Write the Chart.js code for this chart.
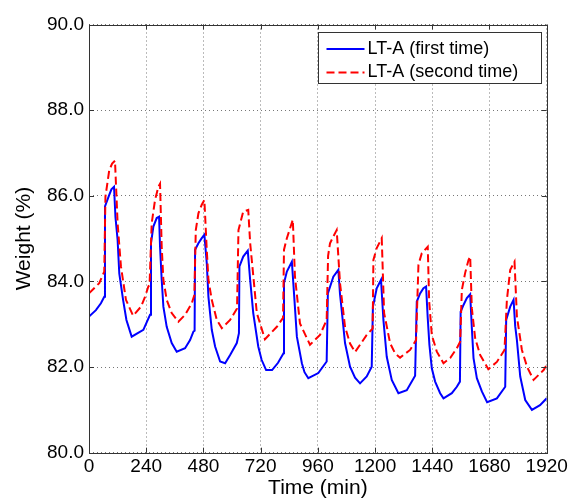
<!DOCTYPE html>
<html>
<head>
<meta charset="utf-8">
<title>LT-A weight</title>
<script src="https://cdn.jsdelivr.net/npm/chart.js@4.4.1/dist/chart.umd.min.js"></script>
<style>
    body { margin: 0; background: #fff; }
    #wrap { width: 569px; height: 500px; }
</style>
</head>
<body>
<div id="wrap"><canvas id="weightChart" width="569" height="500"></canvas></div>
<script>
// Valores (tempo em min, peso em %)
const blueTime = [
    0, 29, 50, 64, 67, 85, 94, 105, 111, 120,
    127, 143, 157, 179, 228, 256, 260, 270, 284, 294,
    298, 305, 312, 326, 347, 368, 403, 424, 438, 443,
    445, 459, 473, 484, 494, 501, 515, 529, 550, 571,
    592, 620, 629, 631, 647, 666, 676, 689, 710, 724,
    743, 768, 793, 816, 818, 830, 851, 860, 872, 893,
    904, 920, 962, 997, 1002, 1025, 1046, 1053, 1060, 1074,
    1095, 1116, 1137, 1165, 1186, 1191, 1207, 1225, 1235, 1249,
    1270, 1298, 1333, 1368, 1375, 1389, 1403, 1414, 1421, 1428,
    1438, 1452, 1473, 1487, 1522, 1543, 1556, 1559, 1571, 1585,
    1599, 1606, 1613, 1627, 1648, 1670, 1711, 1746, 1750, 1767,
    1781, 1788, 1795, 1809, 1830, 1858, 1892, 1920
];
const blueWeight = [
    83.18, 83.33, 83.49, 83.64, 85.75, 86.02, 86.15, 86.21, 85.50, 84.97,
    84.19, 83.57, 83.10, 82.71, 82.87, 83.22, 84.89, 85.28, 85.48, 85.51,
    84.81, 84.04, 83.41, 82.94, 82.56, 82.36, 82.44, 82.63, 82.83, 82.85,
    84.74, 84.89, 85.01, 85.09, 84.43, 83.64, 82.87, 82.48, 82.13, 82.09,
    82.28, 82.56, 82.79, 84.35, 84.58, 84.72, 84.04, 83.26, 82.48, 82.17,
    81.93, 81.93, 82.10, 82.32, 83.96, 84.23, 84.46, 83.72, 82.71, 82.09,
    81.88, 81.74, 81.86, 82.13, 83.72, 84.11, 84.27, 83.70, 83.33, 82.56,
    82.01, 81.75, 81.62, 81.78, 82.01, 83.41, 83.84, 84.04, 83.10, 82.24,
    81.70, 81.39, 81.46, 81.80, 83.53, 83.72, 83.84, 83.88, 83.14, 82.52,
    81.97, 81.66, 81.39, 81.27, 81.39, 81.54, 81.66, 83.29, 83.45, 83.61,
    83.70, 82.91, 82.21, 81.74, 81.43, 81.18, 81.27, 81.54, 83.10, 83.41,
    83.57, 82.95, 82.63, 81.78, 81.23, 81.00, 81.11, 81.27
];
const redTime = [
    0, 43, 64, 69, 85, 97, 109, 120, 134, 155,
    185, 218, 235, 249, 254, 263, 277, 291, 298, 305,
    312, 326, 347, 375, 403, 431, 442, 448, 459, 473,
    484, 494, 501, 515, 536, 557, 592, 621, 627, 647,
    668, 676, 704, 738, 788, 814, 818, 830, 855, 860,
    864, 885, 927, 969, 997, 1003, 1011, 1025, 1039, 1053,
    1074, 1095, 1116, 1165, 1190, 1193, 1207, 1228, 1238, 1263,
    1284, 1305, 1347, 1372, 1382, 1396, 1421, 1427, 1438, 1459,
    1487, 1515, 1543, 1557, 1564, 1578, 1592, 1599, 1606, 1620,
    1641, 1675, 1711, 1743, 1753, 1767, 1785, 1795, 1816, 1838,
    1865, 1907, 1920
];
const redWeight = [
    83.72, 83.96, 84.23, 85.98, 86.60, 86.75, 86.82, 85.36, 84.35, 83.57,
    83.20, 83.41, 83.64, 83.88, 83.92, 85.36, 85.90, 86.21, 86.28, 84.81,
    84.04, 83.57, 83.26, 83.06, 83.22, 83.49, 83.68, 85.20, 85.59, 85.79,
    85.90, 84.74, 84.04, 83.57, 83.10, 82.91, 83.10, 83.37, 85.20, 85.63,
    85.67, 84.90, 83.26, 82.65, 82.94, 83.15, 84.74, 85.01, 85.44, 84.70,
    84.11, 83.02, 82.52, 82.75, 83.10, 84.60, 84.89, 85.05, 85.20, 83.96,
    82.94, 82.55, 82.35, 82.75, 82.90, 84.50, 84.78, 85.01, 83.26, 82.56,
    82.32, 82.22, 82.40, 82.63, 84.39, 84.66, 84.81, 83.53, 82.75, 82.36,
    82.09, 82.21, 82.44, 82.59, 83.80, 84.20, 84.50, 84.58, 83.37, 82.67,
    82.28, 81.95, 82.12, 82.40, 83.57, 84.27, 84.46, 83.18, 82.40, 82.00,
    81.70, 81.93, 82.05
];
const xTickValues = [0, 240, 480, 720, 960, 1200, 1440, 1680, 1920];
const yTickValues = [80, 82, 84, 86, 88, 90];
const seriesLabels = ['LT-A (first time)', 'LT-A (second time)'];

const toPoints = (xs, ys) => xs.map((x, i) => ({ x: x, y: ys[i] }));

Chart.defaults.font.family = '"Liberation Sans", Arial, Helvetica, sans-serif';
Chart.defaults.color = '#000';

// Caixa do eixo, marcas internas e legenda no estilo MATLAB
const matlabFrame = {
    id: 'matlabFrame',
    afterDatasetsDraw(chart) {
        const { ctx, chartArea: a, scales: { x, y } } = chart;
        ctx.save();
        ctx.strokeStyle = '#333';
        ctx.lineWidth = 1;
        ctx.setLineDash([]);
        ctx.strokeRect(Math.round(a.left) + 0.5, Math.round(a.top) + 0.5,
            Math.round(a.right) - Math.round(a.left), Math.round(a.bottom) - Math.round(a.top));
        ctx.beginPath();
        xTickValues.forEach(v => {
            const px = Math.round(x.getPixelForValue(v)) + 0.5;
            ctx.moveTo(px, a.bottom); ctx.lineTo(px, a.bottom - 5);
            ctx.moveTo(px, a.top); ctx.lineTo(px, a.top + 5);
        });
        yTickValues.forEach(v => {
            const py = Math.round(y.getPixelForValue(v)) + 0.5;
            ctx.moveTo(a.left, py); ctx.lineTo(a.left + 5, py);
            ctx.moveTo(a.right, py); ctx.lineTo(a.right - 5, py);
        });
        ctx.stroke();
        ctx.restore();
    },
    afterDraw(chart) {
        const { ctx, chartArea: a } = chart;
        const boxW = 223, boxH = 51;
        const bx = Math.round(a.right - 6 - boxW) + 0.5;
        const by = Math.round(a.top + 7) + 0.5;
        ctx.save();
        ctx.fillStyle = '#fff';
        ctx.fillRect(bx, by, boxW, boxH);
        ctx.strokeStyle = '#333';
        ctx.lineWidth = 1;
        ctx.strokeRect(bx, by, boxW, boxH);
        const rows = [by + 16.5, by + 40];
        chart.data.datasets.forEach((ds, i) => {
            const ry = rows[i];
            ctx.beginPath();
            ctx.strokeStyle = ds.borderColor;
            ctx.lineWidth = 2;
            ctx.setLineDash(ds.borderDash || []);
            ctx.moveTo(bx + 8, ry);
            ctx.lineTo(bx + 46, ry);
            ctx.stroke();
            ctx.setLineDash([]);
            ctx.fillStyle = '#000';
            ctx.font = '18px "Liberation Sans", Arial, sans-serif';
            ctx.textBaseline = 'middle';
            ctx.textAlign = 'left';
            ctx.fillText(ds.label, bx + 49, ry);
        });
        ctx.restore();
    }
};

const weightChart = new Chart(document.getElementById('weightChart'), {
    type: 'line',
    data: {
        datasets: [
            {
                label: seriesLabels[0],
                data: toPoints(blueTime, blueWeight),
                borderColor: '#0000ff',
                borderWidth: 2,
                pointRadius: 0,
                tension: 0,
                order: 1
            },
            {
                label: seriesLabels[1],
                data: toPoints(redTime, redWeight),
                borderColor: '#ff0000',
                borderWidth: 2,
                borderDash: [8, 4],
                pointRadius: 0,
                tension: 0,
                order: 0
            }
        ]
    },
    options: {
        responsive: false,
        animation: false,
        devicePixelRatio: 1,
        layout: { padding: { left: 0, right: 22.3, top: 24.5, bottom: 0 } },
        plugins: {
            legend: { display: false },
            tooltip: { enabled: false }
        },
        scales: {
            x: {
                type: 'linear',
                min: 0,
                max: 1920,
                afterBuildTicks: s => { s.ticks = xTickValues.map(v => ({ value: v })); },
                afterFit: s => { s.height = 47.3; },
                grid: { color: '#777', lineWidth: 1, drawTicks: false },
                border: { display: false, dash: [1, 3] },
                ticks: {
                    autoSkip: false,
                    maxRotation: 0,
                    padding: 1,
                    font: { size: 19, lineHeight: 1.4 },
                    callback: v => String(v)
                },
                title: {
                    display: true,
                    text: 'Time (min)',
                    font: { size: 21, lineHeight: 1.1 },
                    padding: 0
                }
            },
            y: {
                min: 80,
                max: 90,
                afterBuildTicks: s => { s.ticks = yTickValues.map(v => ({ value: v })); },
                afterFit: s => { s.width = 89; },
                grid: { color: '#777', lineWidth: 1, drawTicks: false },
                border: { display: false, dash: [1, 3] },
                ticks: {
                    padding: 5,
                    font: { size: 19 },
                    callback: v => v.toFixed(1)
                },
                title: {
                    display: true,
                    text: 'Weight (%)',
                    font: { size: 21 },
                    padding: { top: 12, bottom: 0 }
                }
            }
        }
    },
    plugins: [matlabFrame]
});
</script>
</body>
</html>
